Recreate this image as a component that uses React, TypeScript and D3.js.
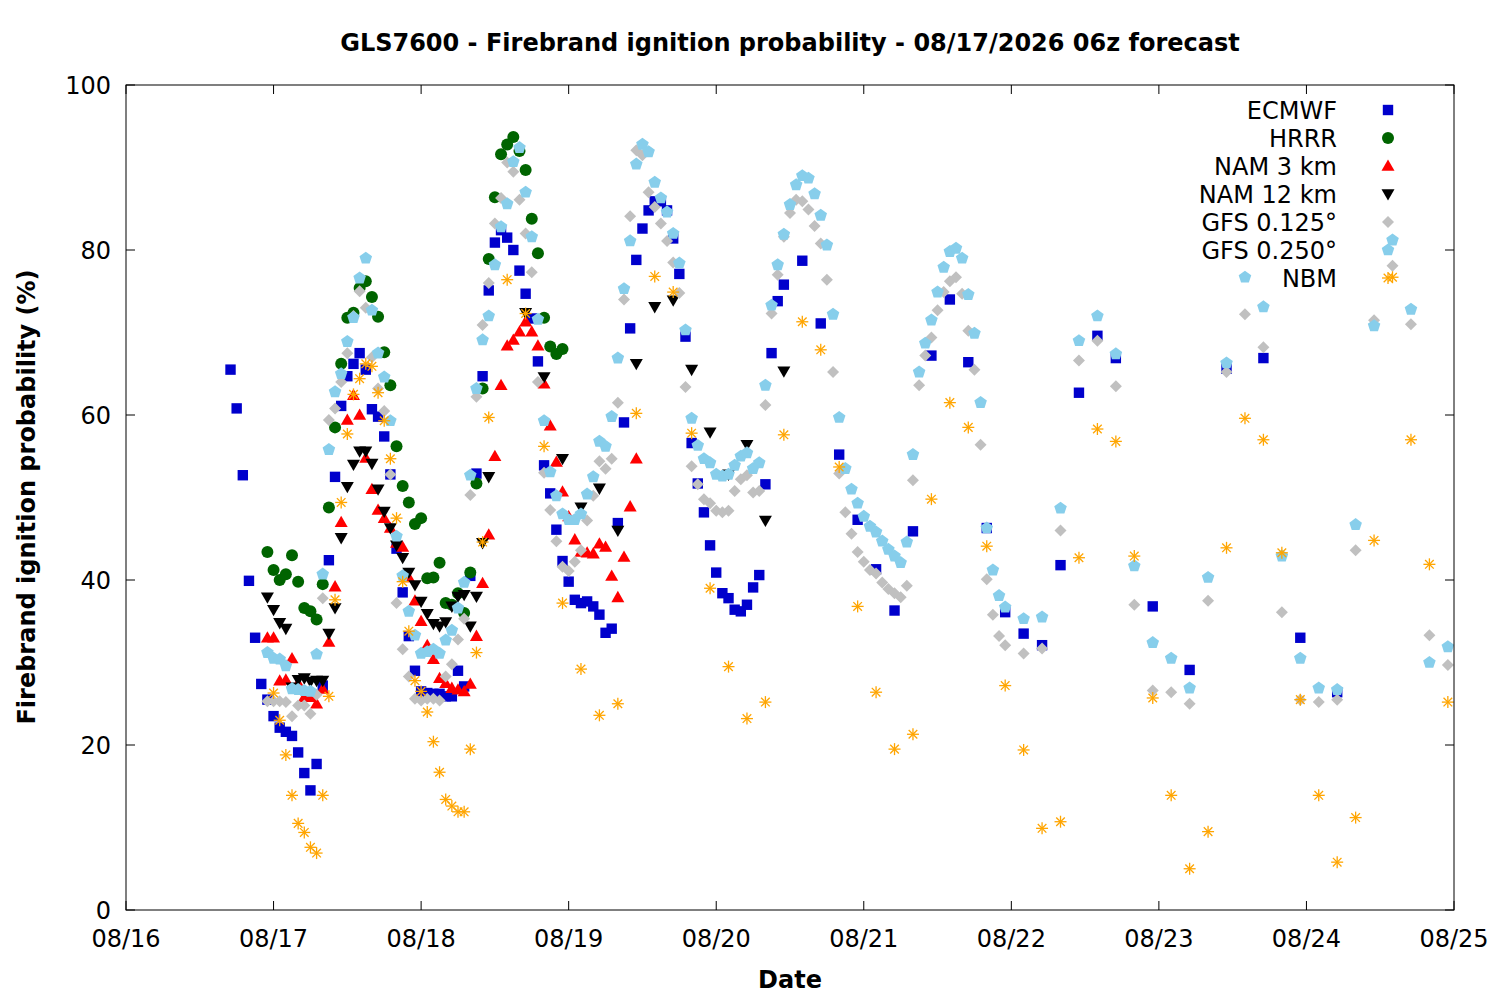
import * as d3 from 'd3';
import React from 'react';

// hours are counted from 08/16 00:00 on the chart's time axis
const ecmwfHourly = [
  65.5, 60.8, 52.7, 39.9, 33.0, 27.4, 25.5, 23.5, 22.1, 21.6, 21.1, 19.1, 16.6, 14.5, 17.7, 27.2,
  42.4, 52.5, 61.1, 64.7, 66.2, 67.5, 65.5, 60.7, 59.8, 57.4, 52.8, 43.8, 38.5, 33.2, 29.0, 26.5,
  26.3, 26.2, 26.2, 25.9, 25.9, 29.0, 27.1, 40.5, 52.9, 64.7, 75.1, 80.9, 82.4, 81.5, 80.0, 77.5,
  74.7, 71.7, 66.5, 53.9, 50.5, 46.1, 42.3, 39.8, 37.6, 37.2, 37.4, 36.8, 35.8, 33.6, 34.1, 46.9,
  59.1, 70.5, 78.8, 82.6, 84.8, 85.9, 85.9, 84.8, 81.4, 77.1, 69.5, 56.6, 51.7, 48.2, 44.2, 40.9,
  38.4, 37.8, 36.4, 36.2, 37.0, 39.1, 40.6, 51.6, 67.5, 73.8, 75.8,
];
const ecmwf3h = [78.7, 71.1, 55.2, 47.3, 41.3, 36.3, 45.9, 67.2, 74.0, 66.4, 46.3, 36.1, 33.5, 32.1, 41.8, 62.7, 69.6, 66.9];
const ecmwf6h = [36.8, 29.1, 65.6, 66.9, 33.0, 26.4];

const hrrrHourly = [
  43.4, 41.2, 40.0, 40.7, 43.0, 39.8, 36.6, 36.2, 35.2, 39.5, 48.8, 58.5, 66.2, 71.8, 72.4, 75.4,
  76.2, 74.3, 71.9, 67.6, 63.6, 56.2, 51.4, 49.4, 46.8, 47.5, 40.2, 40.3, 42.1, 37.2, 37.0, 38.4,
  36.0, 40.9, 51.7, 63.2, 78.9, 86.4, 91.6, 92.8, 93.7, 92.0, 89.7, 83.8, 79.6, 71.8, 68.3, 67.4, 68.0,
];

const nam3Hourly = [
  33.0, 33.0, 27.8, 27.9, 30.5, 27.5, 25.8, 25.8, 25.0, 26.8, 32.5, 39.2, 47.0, 59.4, 62.4, 60.0,
  54.8, 51.0, 48.5, 47.5, 46.3, 44.5, 44.0, 40.3, 37.5, 35.0, 32.1, 30.4, 28.1, 27.5, 26.9, 26.7,
  26.5, 27.4, 33.2, 39.6, 45.5, 55.0, 63.6, 68.4, 69.1, 70.1, 71.3, 70.1, 68.4, 63.8, 58.7, 54.3,
  50.7, 47.7, 44.9, 43.4, 43.3, 43.2, 44.4, 44.0, 40.5, 37.9, 42.8, 48.9, 54.7,
];

const nam12Hourly = [
  37.9, 36.4, 34.8, 34.1, 27.0, 27.9, 28.1, 27.7, 27.8, 27.8, 33.5, 36.6, 45.1, 51.3, 54.0, 55.6,
  55.6, 54.1, 51.0, 48.3, 46.3, 44.2, 42.7, 40.9, 39.4, 37.4, 35.9, 34.7, 34.4, 34.9, 36.8, 38.0,
  38.2, 34.4, 38.0, 44.5, 52.5,
];
const nam12ThreeHourly = [72.4, 64.6, 54.7, 48.8, 51.1, 46.0, 66.2, 73.1, 73.9, 65.5, 57.9, 52.8, 56.4, 47.2, 65.3];

const gfs125Hourly = [
  25.3, 25.3, 25.3, 25.2, 23.5, 24.8, 24.8, 23.8, 26.1, 37.8, 59.4, 60.8, 64.0, 67.5, 72.0, 75.0,
  73.0, 67.0, 63.2, 60.5, 52.8, 37.2, 31.6, 28.3, 25.6, 25.4, 25.6, 25.6, 25.4, 28.3, 29.8, 32.8,
  35.3, 50.3, 62.2, 70.9, 76.0, 83.2, 86.3, 90.6, 89.5, 86.1, 82.0, 77.3, 64.0, 53.0, 48.5, 44.7,
  41.6, 41.1, 42.2, 43.6, 47.2, 50.2, 54.4, 53.5, 54.7, 61.5, 74.0, 84.1, 92.1, 91.5, 87.0, 85.2,
  83.2, 81.1, 78.5, 74.8, 63.4, 53.8, 51.6, 49.8, 49.3, 48.4, 48.2, 48.4, 50.8, 52.2, 52.7, 50.6,
  50.8, 61.2, 72.3, 77.0, 81.6, 84.5, 86.1, 85.9, 84.9, 82.9, 80.8, 76.4, 65.2, 52.9, 48.2, 45.6,
  43.4, 42.2, 41.2, 40.8, 39.7, 38.9, 38.4, 37.9, 39.3, 52.1, 63.6, 67.2, 69.4, 72.7, 74.9, 76.2,
  76.7, 74.7, 70.2, 65.5, 56.4, 40.1, 35.8, 33.2, 32.1,
];
const gfs125ThreeHourly = [
  31.1, 31.7, 46.0, 66.6, 69.0, 63.5, 37.0, 26.6, 26.4, 25.0, 37.5, 65.2,
  72.2, 68.2, 36.1, 25.5, 25.2, 25.5, 43.6, 71.5, 78.1, 71.0, 33.3, 29.7,
];

const gfs250Hourly = [
  31.2, 30.5, 30.4, 29.6, 26.8, 26.7, 26.6, 26.5, 31.0, 40.7, 55.8, 62.8, 65.0, 68.9, 71.8, 76.6,
  79.0, 72.7, 67.5, 64.6, 59.3, 45.3, 40.5, 36.2, 33.3, 31.1, 31.3, 31.6, 31.1, 32.7, 33.9, 36.6,
  39.7, 52.7, 63.2, 69.1, 72.0, 78.2, 82.8, 85.6, 90.7, 92.4, 87.0, 81.6, 71.6, 59.3, 53.1, 50.2,
  48.0, 47.3, 47.3, 48.0, 50.4, 52.5, 56.8, 56.2, 59.8, 66.9, 75.3, 81.1, 90.4, 92.8, 91.9, 88.2,
  86.3, 84.6, 82.0, 78.4, 70.3, 59.6, 56.3, 54.7, 54.2, 52.8, 52.6, 52.8, 53.9, 55.0, 55.4, 53.5,
  54.2, 63.6, 73.3, 78.2, 81.9, 85.5, 87.9, 89.0, 88.7, 86.8, 84.2, 80.6, 72.2, 59.7, 53.5, 51.0,
  49.3, 47.7, 46.5, 45.8, 44.7, 43.7, 42.9, 42.1, 44.6, 55.2, 65.2, 68.7, 71.5, 74.9, 77.9, 79.8,
  80.2, 79.0, 74.6, 69.9, 61.5, 46.3, 41.2, 38.1, 36.7,
];
const gfs250ThreeHourly = [
  35.3, 35.5, 48.7, 69.0, 72.0, 67.4, 41.7, 32.4, 30.5, 26.9, 40.3, 66.3,
  76.7, 73.1, 42.9, 30.5, 26.9, 26.7, 46.7, 70.8, 81.2, 72.8, 30.0, 31.9,
];

const nbmHourly = [
  26.3, 23.0, 18.8, 13.9, 10.5, 9.4, 7.6, 6.9, 13.9, 25.9, 37.6, 49.4, 57.7, 62.5, 64.4, 66.2,
  65.9, 62.7, 59.3, 54.7, 47.5, 39.8, 33.8, 27.8, 26.5, 24.0, 20.4, 16.7, 13.4, 12.6, 11.9, 11.9,
  19.5, 31.2, 44.6, 59.7,
];
const nbmThreeHourly = [
  76.4, 72.3, 56.2, 37.2, 29.2, 23.6, 25.0, 60.2, 76.8, 74.9, 57.8, 39.0, 29.5, 23.2, 25.2, 57.6,
  71.3, 67.9, 53.7, 36.8, 26.4, 19.5, 21.3, 49.8, 61.5, 58.5, 44.1, 27.2, 19.4, 9.9, 10.7, 42.7,
  58.3, 56.8, 42.9, 25.7, 13.9, 5.0, 9.5, 43.9, 59.6, 57.0, 43.3, 25.5, 13.9, 5.8, 11.2, 44.8,
  76.7, 57.0, 41.9, 25.2,
];

const yTicks = [0, 20, 40, 60, 80, 100];

type Pt = [number, number];
const run = (startHour: number, step: number, values: number[]): Pt[] =>
  values.map((v, i) => [startHour + i * step, v]);

type Shape = 'square' | 'circle' | 'triUp' | 'triDown' | 'diamond' | 'pentagon' | 'star';

const series: { name: string; color: string; shape: Shape; points: Pt[] }[] = [
  { name: 'ECMWF', color: '#0000cc', shape: 'square', points: [...run(17, 1, ecmwfHourly), ...run(110, 3, ecmwf3h), ...run(167, 6, ecmwf6h)] },
  { name: 'HRRR', color: '#006400', shape: 'circle', points: run(23, 1, hrrrHourly) },
  { name: 'NAM 3 km', color: '#ff0000', shape: 'triUp', points: run(23, 1, nam3Hourly) },
  { name: 'NAM 12 km', color: '#000000', shape: 'triDown', points: [...run(23, 1, nam12Hourly), ...run(65, 3, nam12ThreeHourly)] },
  { name: 'GFS 0.125°', color: '#c0c0c0', shape: 'diamond', points: [...run(23, 1, gfs125Hourly), ...run(146, 3, gfs125ThreeHourly)] },
  { name: 'GFS 0.250°', color: '#87ceeb', shape: 'pentagon', points: [...run(23, 1, gfs250Hourly), ...run(146, 3, gfs250ThreeHourly)] },
  { name: 'NBM', color: '#ffa500', shape: 'star', points: [...run(24, 1, nbmHourly), ...run(62, 3, nbmThreeHourly)] },
];

const W = 1500;
const H = 1000;
const left = 126;
const right = 1454;
const top = 85;
const bottom = 910;
const font = 'DejaVu Sans, sans-serif';
const fs = 24;

const t0 = Date.UTC(2026, 7, 16);
const x = d3.scaleUtc().domain([new Date(t0), new Date(Date.UTC(2026, 7, 25))]).range([left, right]);
const y = d3.scaleLinear().domain([0, 100]).range([bottom, top]);
const hourToDate = (h: number) => new Date(t0 + h * 3600 * 1000);
const fmt = d3.utcFormat('%m/%d');

const pentagon = (r: number) =>
  d3.range(5).map((i) => {
    const a = -Math.PI / 2 + (i * 2 * Math.PI) / 5;
    return `${(r * Math.cos(a)).toFixed(2)},${(r * Math.sin(a)).toFixed(2)}`;
  }).join(' ');

const Marker = ({ shape, color, cx, cy }: { shape: Shape; color: string; cx: number; cy: number }) => {
  const t = `translate(${cx},${cy})`;
  switch (shape) {
    case 'square':
      return <rect x={cx - 5.2} y={cy - 5.2} width={10.4} height={10.4} fill={color} />;
    case 'circle':
      return <circle cx={cx} cy={cy} r={6} fill={color} />;
    case 'triUp':
      return <polygon transform={t} points="0,-6.5 6.5,4.8 -6.5,4.8" fill={color} />;
    case 'triDown':
      return <polygon transform={t} points="0,6.5 6.5,-4.8 -6.5,-4.8" fill={color} />;
    case 'diamond':
      return <polygon transform={t} points="0,-6 6,0 0,6 -6,0" fill={color} />;
    case 'pentagon':
      return <polygon transform={t} points={pentagon(6.6)} fill={color} />;
    case 'star':
      return (
        <g transform={t} stroke={color} strokeWidth={1.3}>
          <line x1={-6} y1={0} x2={6} y2={0} />
          <line x1={0} y1={-6} x2={0} y2={6} />
          <line x1={-4.3} y1={-4.3} x2={4.3} y2={4.3} />
          <line x1={-4.3} y1={4.3} x2={4.3} y2={-4.3} />
        </g>
      );
  }
};

const App = () => {
  const xTicks = x.ticks(d3.utcDay.every(1)!);
  return (
    <svg width={W} height={H} style={{ position: 'absolute', left: 0, top: 0, background: '#fff' }} fontFamily={font}>
      <rect width={W} height={H} fill="#fff" />
      <text x={790} y={51} textAnchor="middle" fontSize={fs} fontWeight="bold">
        GLS7600 - Firebrand ignition probability - 08/17/2026 06z forecast
      </text>

      {series.map((s) => (
        <g key={s.name}>
          {s.points.map(([h, v], i) => (
            <Marker key={i} shape={s.shape} color={s.color} cx={x(hourToDate(h))} cy={y(v)} />
          ))}
        </g>
      ))}

      {series.map((s, i) => (
        <g key={s.name}>
          <text x={1337} y={110 + i * 28} dy="0.36em" textAnchor="end" fontSize={fs}>
            {s.name}
          </text>
          <Marker shape={s.shape} color={s.color} cx={1388} cy={110 + i * 28} />
        </g>
      ))}

      <rect x={left} y={top} width={right - left} height={bottom - top} fill="none" stroke="#000" strokeWidth={1} />
      {yTicks.map((v) => (
        <g key={v}>
          <line x1={left} x2={left + 9} y1={y(v)} y2={y(v)} stroke="#000" />
          <line x1={right} x2={right - 9} y1={y(v)} y2={y(v)} stroke="#000" />
          <text x={111} y={y(v)} dy="0.36em" textAnchor="end" fontSize={fs}>
            {v}
          </text>
        </g>
      ))}
      {xTicks.map((d) => (
        <g key={+d}>
          <line x1={x(d)} x2={x(d)} y1={bottom} y2={bottom - 9} stroke="#000" />
          <line x1={x(d)} x2={x(d)} y1={top} y2={top + 9} stroke="#000" />
          <text x={x(d)} y={947} textAnchor="middle" fontSize={fs}>
            {fmt(d)}
          </text>
        </g>
      ))}

      <text x={790} y={988} textAnchor="middle" fontSize={fs} fontWeight="bold">
        Date
      </text>
      <text transform="translate(35,497) rotate(-90)" textAnchor="middle" fontSize={fs} fontWeight="bold">
        Firebrand ignition probability (%)
      </text>
    </svg>
  );
};

export default App;
